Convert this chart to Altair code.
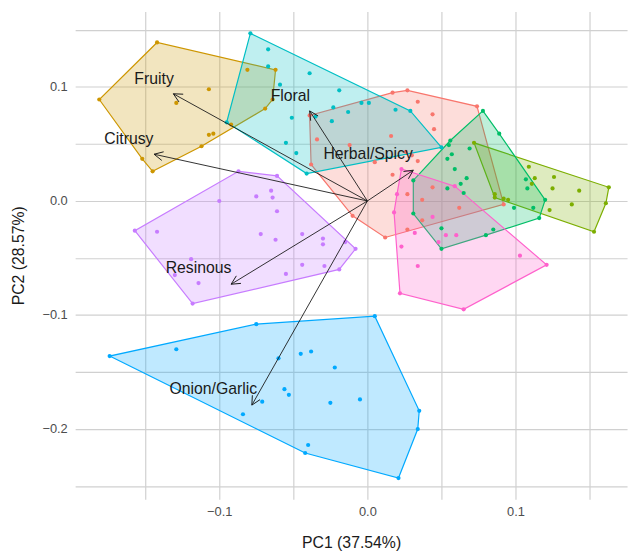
import math
import altair as alt
import pandas as pd

# ---- group colours (ggplot hue, 8 groups) ----
groups = ["G1", "G2", "G3", "G4", "G5", "G6", "G7", "G8"]
colors = ["#F8766D", "#CD9600", "#7CAE00", "#00BE67", "#00BFC4", "#00A9FF", "#C77CFF", "#FF61CC"]

# ---- sample scores (PC1, PC2) per group ----
g1_x = [0.027, 0.017, 0.074, 0.034, 0.044, 0.045, -0.039, -0.038, -0.034, -0.012, 0.016, 0.034, 0.030,
        0.005, 0.017, -0.010, 0.012, 0.092, 0.027, 0.044, 0.037, 0.037, 0.062, 0.027, 0.026]
g1_y = [0.097, 0.095, 0.083, 0.087, 0.076, 0.063, 0.075, 0.032, 0.054, 0.049, 0.057, 0.035, 0.040,
        0.034, 0.023, -0.013, -0.032, -0.003, 0.006, 0.012, 0.001, -0.017, -0.006, -0.025, 0.043]

g2_x = [-0.142, -0.181, -0.145, -0.152, -0.112, -0.092, -0.069, -0.064, -0.062, -0.081, -0.107, -0.129, -0.107, -0.104]
g2_y = [0.139, 0.089, 0.026, 0.037, 0.048, 0.067, 0.081, 0.089, 0.115, 0.115, 0.098, 0.086, 0.058, 0.059]

g3_x = [0.072, 0.163, 0.161, 0.153, 0.086, 0.109, 0.113, 0.126, 0.125, 0.143, 0.138, 0.123, 0.092, 0.095, 0.086, 0.111]
g3_y = [0.051, 0.012, -0.002, -0.027, 0.003, 0.030, 0.020, 0.021, 0.011, 0.009, -0.003, -0.008, 0.002, 0.001, 0.006, 0.015]

g4_x = [0.078, 0.120, 0.116, 0.050, 0.031, 0.031, 0.055, 0.056, 0.089, 0.069, 0.057, 0.054, 0.059, 0.067,
        0.063, 0.054, 0.065, 0.107, 0.108, 0.099, 0.112, 0.085, 0.080, 0.050]
g4_y = [0.079, 0.001, -0.015, -0.042, -0.011, 0.018, 0.049, 0.053, 0.059, 0.046, 0.041, 0.037, 0.028, 0.020,
        0.015, 0.011, 0.007, 0.019, 0.011, -0.006, -0.006, -0.025, -0.030, -0.024]

g5_x = [-0.079, 0.029, 0.050, -0.041, -0.095, -0.067, -0.067, -0.039, -0.059, -0.019, -0.023, -0.004, 0.001,
        -0.013, 0.019, -0.024, -0.051, -0.055, -0.048, -0.035]
g5_y = [0.147, 0.079, 0.047, 0.024, 0.069, 0.133, 0.118, 0.112, 0.102, 0.097, 0.082, 0.086, 0.086,
        0.078, 0.080, 0.070, 0.073, 0.051, 0.042, 0.074]

g6_x = [-0.174, -0.075, 0.005, 0.035, 0.034, 0.021, -0.042, -0.129, -0.060, -0.045, -0.038, -0.022, -0.056,
        -0.053, -0.071, -0.084, -0.025, -0.005, -0.040]
g6_y = [-0.136, -0.108, -0.101, -0.184, -0.200, -0.243, -0.221, -0.130, -0.138, -0.134, -0.132, -0.146, -0.165,
        -0.170, -0.176, -0.187, -0.177, -0.174, -0.214]

g7_x = [-0.087, -0.061, -0.008, -0.019, -0.118, -0.157, -0.100, -0.075, -0.065, -0.064, -0.061, -0.142, -0.072,
        -0.062, -0.044, -0.030, -0.030, -0.015, -0.119, -0.130, -0.114, -0.055, -0.044, -0.029]
g7_y = [0.026, 0.022, -0.042, -0.060, -0.090, -0.026, 0.000, 0.004, 0.009, 0.003, -0.009, -0.027, -0.029,
        -0.034, -0.029, -0.033, -0.038, -0.036, -0.051, -0.065, -0.072, -0.064, -0.056, -0.057]

g8_x = [0.023, 0.059, 0.121, 0.065, 0.022, 0.018, 0.020, 0.032, 0.023, 0.034, 0.103, 0.053, 0.060, 0.048, 0.044]
g8_y = [0.028, 0.013, -0.056, -0.095, -0.081, -0.010, 0.006, -0.028, -0.040, -0.057, -0.048, -0.030, -0.030, -0.036, -0.014]

group_x = [g1_x, g2_x, g3_x, g4_x, g5_x, g6_x, g7_x, g8_x]
group_y = [g1_y, g2_y, g3_y, g4_y, g5_y, g6_y, g7_y, g8_y]

# ---- loadings (arrows) ----
var_names = ["Fruity", "Citrusy", "Floral", "Herbal/Spicy", "Resinous", "Onion/Garlic"]
load_x = [-0.131, -0.144, -0.039, 0.031, -0.092, -0.078]
load_y = [0.094, 0.041, 0.079, 0.027, -0.073, -0.179]
label_x = [-0.144, -0.161, -0.052, 0.0005, -0.114, -0.104]
label_y = [0.107, 0.054, 0.092, 0.041, -0.059, -0.165]

# ---- axes ----
x_dom = [-0.1973, 0.1753]
y_dom = [-0.2615, 0.1662]
x_grid = [-0.15, -0.1, -0.05, 0.0, 0.05, 0.1, 0.15]
y_grid = [-0.25, -0.2, -0.15, -0.1, -0.05, 0.0, 0.05, 0.1, 0.15]
W, H = 559, 494


def convex_hull(pts):
    pts = sorted(set(pts))
    if len(pts) <= 2:
        return pts

    def cross(o, a, b):
        return (a[0] - o[0]) * (b[1] - o[1]) - (a[1] - o[1]) * (b[0] - o[0])

    lower = []
    for p in pts:
        while len(lower) >= 2 and cross(lower[-2], lower[-1], p) <= 0:
            lower.pop()
        lower.append(p)
    upper = []
    for p in reversed(pts):
        while len(upper) >= 2 and cross(upper[-2], upper[-1], p) <= 0:
            upper.pop()
        upper.append(p)
    return lower[:-1] + upper[:-1]


pt_rows, hull_rows = [], []
for g, xs, ys in zip(groups, group_x, group_y):
    for x, y in zip(xs, ys):
        pt_rows.append({"g": g, "x": x, "y": y})
    for i, (x, y) in enumerate(convex_hull(list(zip(xs, ys)))):
        hull_rows.append({"g": g, "x": x, "y": y, "o": i})
pts_df = pd.DataFrame(pt_rows)
hull_df = pd.DataFrame(hull_rows)

kx = W / (x_dom[1] - x_dom[0])
ky = H / (y_dom[1] - y_dom[0])
angles = [math.degrees(math.atan2(-ly * ky, lx * kx)) % 360 for lx, ly in zip(load_x, load_y)]
load_df = pd.DataFrame({"name": var_names, "x0": [0.0] * 6, "y0": [0.0] * 6,
                        "x": load_x, "y": load_y, "lx": label_x, "ly": label_y, "ang": angles})

FONT = "Liberation Sans"
xs = alt.Scale(domain=x_dom, nice=False, zero=False)
ys = alt.Scale(domain=y_dom, nice=False, zero=False)
lab_expr = "abs(datum.value*10 - round(datum.value*10)) < 0.001 ? format(datum.value, '.1f') : ''"

x_axis = alt.Axis(values=x_grid, labelExpr=lab_expr, title="PC1 (37.54%)", labelPadding=7, titlePadding=16)
y_axis = alt.Axis(values=y_grid, labelExpr=lab_expr, title="PC2 (28.57%)", labelPadding=8, titlePadding=16)

cscale = alt.Scale(domain=groups, range=colors)

hulls = alt.Chart(hull_df).mark_line(interpolate="linear-closed", strokeWidth=1.2, fillOpacity=0.25).encode(
    x=alt.X("x:Q", scale=xs, axis=x_axis),
    y=alt.Y("y:Q", scale=ys, axis=y_axis),
    order="o:Q",
    color=alt.Color("g:N", scale=cscale, legend=None),
    fill=alt.Fill("g:N", scale=cscale, legend=None),
)

points = alt.Chart(pts_df).mark_circle(size=18, opacity=1).encode(
    x="x:Q", y="y:Q", color=alt.Color("g:N", scale=cscale, legend=None)
)

arrows = alt.Chart(load_df).mark_rule(color="#1a1a1a", strokeWidth=0.9).encode(
    x="x0:Q", y="y0:Q", x2="x:Q", y2="y:Q"
)

heads = alt.Chart(load_df).mark_point(
    shape="M -1 -0.5 L 0 0 L -1 0.5", filled=False, size=320, color="#1a1a1a", strokeWidth=0.9, opacity=1
).encode(x="x:Q", y="y:Q", angle=alt.Angle("ang:Q", scale=None))

labels = alt.Chart(load_df).mark_text(font=FONT, fontSize=16, color="#1a1a1a").encode(
    x="lx:Q", y="ly:Q", text="name:N"
)

chart = alt.layer(hulls, points, arrows, heads, labels).properties(
    width=W, height=H,
    autosize=alt.AutoSizeParams(type="none"),
    padding={"left": 68, "top": 0, "right": 4, "bottom": 50},
).configure_view(stroke=None).configure_axis(
    grid=True, gridColor="#d0d0d0", gridWidth=1.2, domain=False, ticks=False,
    labelFont=FONT, labelFontSize=13, labelColor="#4d4d4d",
    titleFont=FONT, titleFontSize=16, titleFontWeight="normal", titleColor="#1a1a1a",
)

chart.save("out.html", embed_options={"renderer": "svg", "actions": False})
